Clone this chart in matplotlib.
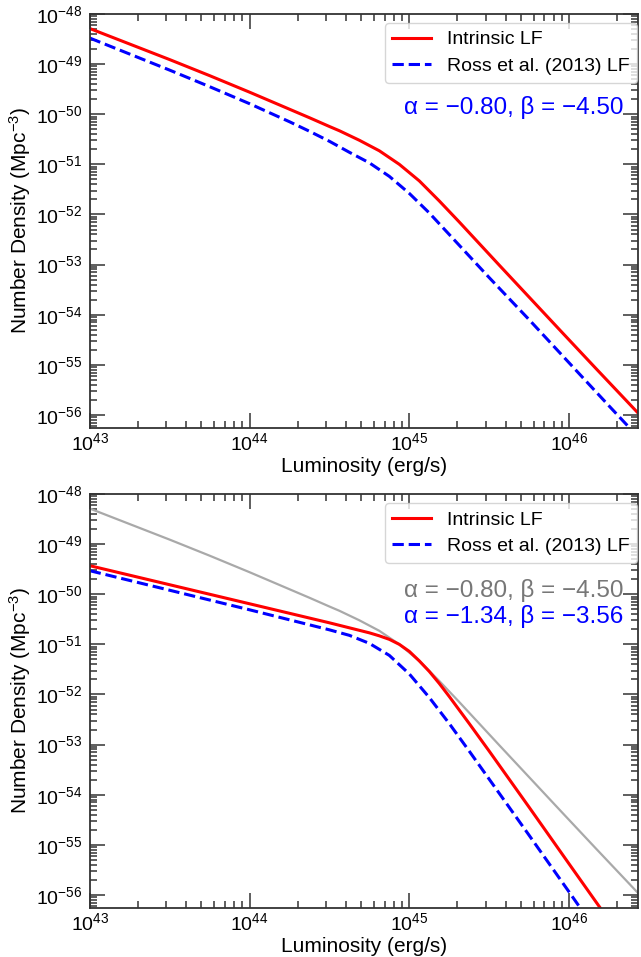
import numpy as np
import matplotlib.pyplot as plt
from matplotlib.ticker import LogLocator, NullFormatter

plt.rcParams['font.family'] = ['Liberation Sans', 'DejaVu Sans']
plt.rcParams['mathtext.fontset'] = 'custom'
plt.rcParams['mathtext.rm'] = 'Liberation Sans'
plt.rcParams['mathtext.it'] = 'Liberation Sans:italic'
plt.rcParams['mathtext.bf'] = 'Liberation Sans:bold'

# log10 luminosity (erg/s) and log10 number density (Mpc^-3)
logL_intr1 = [43.0, 43.25, 43.5, 43.75, 44.0, 44.125, 44.25, 44.375, 44.5, 44.5625,
              44.6875, 44.8125, 44.9375, 45.0625, 45.1875, 45.3125, 45.4375,
              45.5625, 45.75, 45.958, 46.167, 46.44]
logphi_intr1 = [-48.29, -48.60, -48.91, -49.23, -49.56, -49.73, -49.90, -50.07,
                -50.245, -50.33, -50.52, -50.73, -51.00, -51.33, -51.73, -52.15,
                -52.58, -53.01, -53.65, -54.36, -55.07, -55.99]

logL_ross1 = [43.0, 43.25, 43.5, 43.75, 44.0, 44.125, 44.25, 44.375, 44.5, 44.625,
              44.75, 44.875, 45.0, 45.125, 45.25, 45.375, 45.5, 45.625, 45.75,
              46.0, 46.25, 46.385]
logphi_ross1 = [-48.48, -48.80, -49.12, -49.45, -49.79, -49.97, -50.15, -50.34,
                -50.54, -50.76, -50.97, -51.24, -51.58, -51.97, -52.40, -52.83,
                -53.26, -53.68, -54.10, -54.96, -55.82, -56.28]

logL_intr2 = [43.0, 43.5, 44.0, 44.25, 44.5, 44.625, 44.75, 44.8125, 44.875,
              44.9375, 45.0, 45.0625, 45.125, 45.1875, 45.25, 45.375, 45.5,
              45.625, 45.75, 46.0, 46.202]
logphi_intr2 = [-49.43, -49.81, -50.19, -50.38, -50.57, -50.67, -50.77, -50.83,
                -50.90, -51.00, -51.14, -51.33, -51.54, -51.78, -52.04, -52.58,
                -53.13, -53.69, -54.25, -55.38, -56.29]

logL_ross2 = [43.0, 43.5, 44.0, 44.25, 44.5, 44.625, 44.75, 44.875, 45.0, 45.125,
              45.25, 45.375, 45.5, 45.625, 45.75, 46.0, 46.079]
logphi_ross2 = [-49.53, -49.92, -50.31, -50.51, -50.71, -50.82, -50.98, -51.22,
                -51.59, -52.06, -52.58, -53.13, -53.69, -54.25, -54.81, -55.94,
                -56.30]

params1 = 'α = −0.80, β = −4.50'
params2 = 'α = −1.34, β = −3.56'

fig = plt.figure(figsize=(6.41, 9.57), dpi=100)
ax1 = fig.add_axes([0.140, 0.5528, 0.855, 0.4326])
ax2 = fig.add_axes([0.140, 0.0512, 0.855, 0.4326])

lw = 2.2


def style_axis(ax):
    ax.set_xscale('log')
    ax.set_yscale('log')
    ax.set_xlim(1e43, 10**46.43)
    ax.set_ylim(10**-56.26, 1e-48)
    ax.xaxis.set_major_locator(LogLocator(base=10, numticks=20))
    ax.yaxis.set_major_locator(LogLocator(base=10, numticks=20))
    ax.xaxis.set_minor_locator(LogLocator(base=10, subs=np.arange(2, 10), numticks=100))
    ax.yaxis.set_minor_locator(LogLocator(base=10, subs=np.arange(2, 10), numticks=100))
    ax.xaxis.set_minor_formatter(NullFormatter())
    ax.yaxis.set_minor_formatter(NullFormatter())
    ax.tick_params(which='both', direction='in', top=True, right=True,
                   color='#333333', width=1.1)
    ax.tick_params(which='major', length=11, labelsize=14)
    ax.tick_params(which='minor', length=5)
    ax.tick_params(axis='x', which='major', pad=3)
    ax.tick_params(axis='y', which='major', pad=5)
    for s in ax.spines.values():
        s.set_color('#333333')
        s.set_linewidth(1.3)
    ax.set_xlabel('Luminosity (erg/s)', fontsize=15, labelpad=2)
    ax.set_ylabel(r'Number Density (Mpc$^{-3}$)', fontsize=15, labelpad=2)


def add_legend(ax):
    ax.legend(loc='upper right', bbox_to_anchor=(0.999, 0.978), borderaxespad=0,
              fontsize=14, labelspacing=0.45)


# upper panel
ax1.plot(10**np.array(logL_intr1), 10**np.array(logphi_intr1), color='red',
         lw=lw, label='Intrinsic LF')
ax1.plot(10**np.array(logL_ross1), 10**np.array(logphi_ross1), color='blue',
         lw=lw, ls='--', label='Ross et al. (2013) LF')
style_axis(ax1)
add_legend(ax1)
ax1.text(0.974, 0.773, params1, transform=ax1.transAxes, ha='right', va='center',
         fontsize=17.5, color='blue')

# lower panel
ax2.plot(10**np.array(logL_intr1), 10**np.array(logphi_intr1), color='darkgray',
         lw=1.6)
ax2.plot(10**np.array(logL_intr2), 10**np.array(logphi_intr2), color='red',
         lw=lw, label='Intrinsic LF')
ax2.plot(10**np.array(logL_ross2), 10**np.array(logphi_ross2), color='blue',
         lw=lw, ls='--', label='Ross et al. (2013) LF')
style_axis(ax2)
add_legend(ax2)
ax2.text(0.974, 0.768, params1, transform=ax2.transAxes, ha='right', va='center',
         fontsize=17.5, color='#777777')
ax2.text(0.974, 0.703, params2, transform=ax2.transAxes, ha='right', va='center',
         fontsize=17.5, color='blue')

fig.savefig('out.png', dpi=100)
